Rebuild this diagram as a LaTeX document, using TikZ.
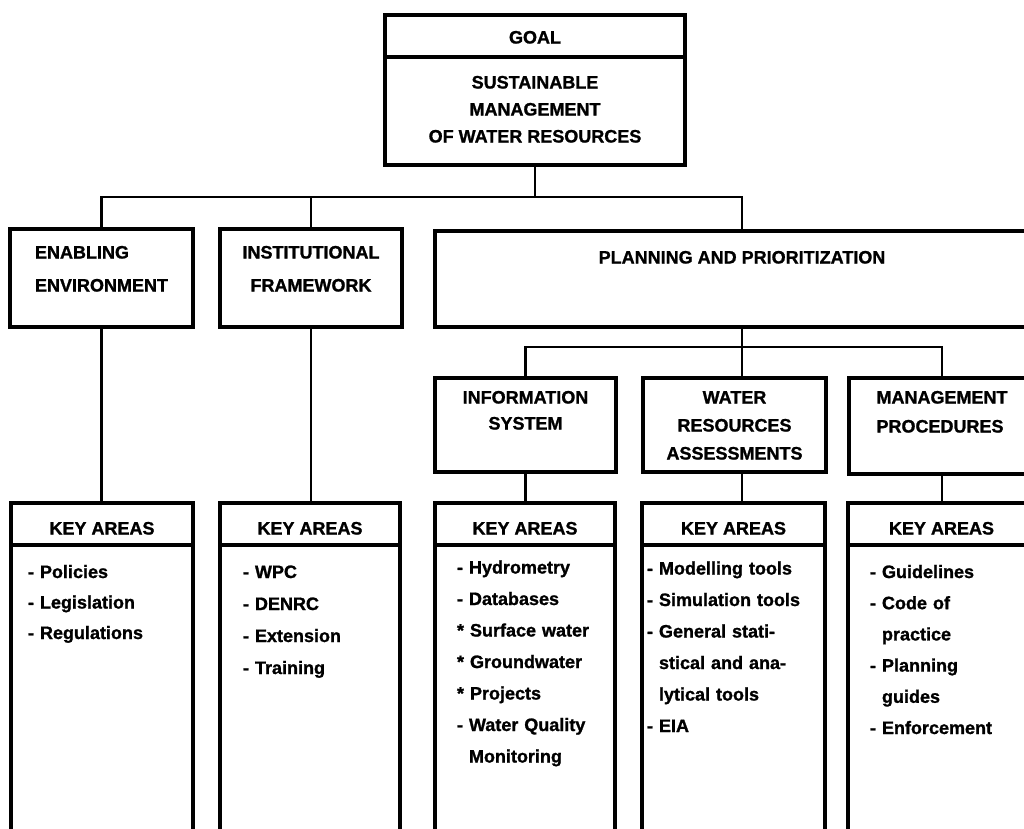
\documentclass[tikz,border=0pt]{standalone}
\usepackage{fontspec}
\setmainfont{Liberation Sans}[BoldFeatures={FakeBold=1.2}]
\begin{document}
\begin{tikzpicture}[x=1pt, y=-1pt, font=\bfseries\fontsize{18}{27}\selectfont,
    box/.style={draw, line width=4pt, rectangle, anchor=north west, inner sep=0pt, outer sep=0pt, align=center},
    lst/.style={draw, line width=4pt, rectangle, anchor=north west, inner ysep=0pt, outer sep=0pt, align=left},
    lnk/.style={line width=2.2pt}]
    \useasboundingbox (0,0) rectangle (1024,828);
    \clip (0,0) rectangle (1024,828);

    % Goal
    \node[box, minimum width=300pt, text height=28.5pt, text depth=13.5pt] (goalhd) at (385,15) {GOAL};
    \node[box, minimum width=300pt, text height=85.5pt, text depth=22.5pt] (goal) at (goalhd.south west) {SUSTAINABLE\\MANAGEMENT\\OF WATER RESOURCES};

    % Second level
    \node[box, align=left, font=\bfseries\fontsize{18}{33}\selectfont, minimum width=183pt, text height=62.5pt, text depth=35.5pt] (env) at (10,229) {ENABLING\\ENVIRONMENT};
    \node[box, font=\bfseries\fontsize{18}{33}\selectfont, minimum width=182pt, text height=62.5pt, text depth=35.5pt] (inst) at (220,229) {INSTITUTIONAL\\FRAMEWORK};
    \node[box, minimum width=614pt, text height=32.5pt, text depth=63.5pt] (plan) at (435,231) {PLANNING AND PRIORITIZATION};

    % Third level
    \node[box, font=\bfseries\fontsize{18}{26}\selectfont, minimum width=181pt, text height=51.5pt, text depth=42.5pt] (info) at (435,378) {INFORMATION\\SYSTEM};
    \node[box, font=\bfseries\fontsize{18}{28}\selectfont, minimum width=183pt, text height=81.5pt, text depth=12.5pt] (wra) at (643,378) {WATER\\RESOURCES\\ASSESSMENTS};
    \node[box, align=left, font=\bfseries\fontsize{18}{29}\selectfont, minimum width=186pt, text height=54.5pt, text depth=41.5pt] (mgmt) at (849,378) {MANAGEMENT\\PROCEDURES};

    % Key areas headers
    \node[box, minimum width=182pt, text height=31.5pt, text depth=10.5pt] (kaenvhd) at (11,503) {KEY AREAS};
    \node[box, minimum width=180pt, text height=31.5pt, text depth=10.5pt] (kainsthd) at (220,503) {KEY AREAS};
    \node[box, minimum width=180pt, text height=31.5pt, text depth=10.5pt] (kainfohd) at (435,503) {KEY AREAS};
    \node[box, minimum width=183pt, text height=31.5pt, text depth=10.5pt] (kawrahd) at (642,503) {KEY AREAS};
    \node[box, minimum width=187pt, text height=31.5pt, text depth=10.5pt] (kamgmthd) at (848,503) {KEY AREAS};

    % Key areas lists
    \node[lst, font=\bfseries\fontsize{18}{30.5}\selectfont, inner xsep=17pt, text width=148pt, text height=33pt, text depth=267pt] (kaenv) at (kaenvhd.south west) {- Policies\\- Legislation\\- Regulations};
    \node[lst, font=\bfseries\fontsize{18}{32}\selectfont, inner xsep=23pt, text width=134pt, text height=33pt, text depth=267pt] (kainst) at (kainsthd.south west) {- WPC\\- DENRC\\- Extension\\- Training};
    \node[lst, font=\bfseries\fontsize{18}{31.5}\selectfont, inner xsep=22pt, text width=136pt, text height=28.5pt, text depth=271.5pt] (kainfo) at (kainfohd.south west) {- Hydrometry\\- Databases\\{*} Surface water\\{*} Groundwater\\{*} Projects\\- Water Quality\\\phantom{- }Monitoring};
    \node[lst, font=\bfseries\fontsize{18}{31.5}\selectfont, inner xsep=5pt, text width=173pt, text height=29.5pt, text depth=270.5pt] (kawra) at (kawrahd.south west) {- Modelling tools\\- Simulation tools\\- General stati-\\\phantom{- }stical and ana-\\\phantom{- }lytical tools\\- EIA};
    \node[lst, font=\bfseries\fontsize{18}{31.2}\selectfont, inner xsep=22pt, text width=143pt, text height=33pt, text depth=267pt] (kamgmt) at (kamgmthd.south west) {- Guidelines\\- Code of\\\phantom{- }practice\\- Planning\\\phantom{- }guides\\- Enforcement};

    % Connectors, top bus
    \draw[lnk] (goal.south) -- ++(0,32) coordinate (bus1);
    \draw[lnk] (env.north) |- (bus1) -| (plan.north);
    \draw[lnk] (inst.north) -- (inst.north |- bus1);

    % Connectors, planning bus
    \draw[lnk] (plan.south) -- ++(0,20) coordinate (bus2);
    \draw[lnk] (info.north) |- (bus2) -| (mgmt.north);
    \draw[lnk] (bus2) -- (wra.north -| bus2);

    % Down to key areas
    \draw[lnk] (env.south) -- (env.south |- kaenvhd.north);
    \draw[lnk] (inst.south) -- (inst.south |- kainsthd.north);
    \draw[lnk] (info.south) -- (info.south |- kainfohd.north);
    \draw[lnk] (wra.south -| bus2) -- (bus2 |- kawrahd.north);
    \draw[lnk] (mgmt.south) -- (mgmt.south |- kamgmthd.north);
\end{tikzpicture}
\end{document}
